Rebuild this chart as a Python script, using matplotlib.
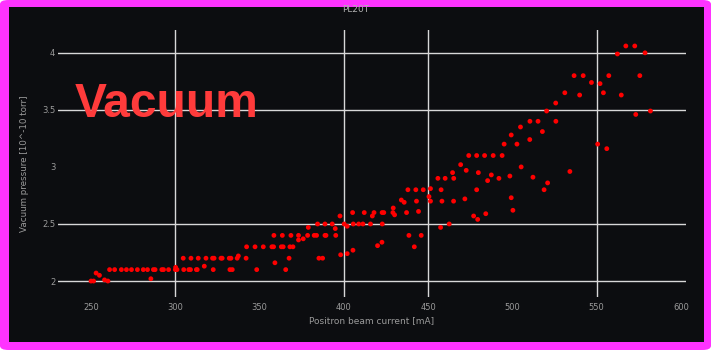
import matplotlib
matplotlib.use("Agg")
import matplotlib.pyplot as plt
from matplotlib.patches import FancyBboxPatch, Rectangle

# beam current [mA] and vacuum pressure [1e-10 torr], PL20T gauge
current = [
    250.0, 251.5, 253.0, 255.0, 258.0, 260.0,
    261.0, 264.0, 268.0, 271.0, 274.0, 277.5, 281.0, 283.5, 287.0, 288.0,
    292.0, 293.0, 296.0, 300.0, 301.0, 305.0, 308.0, 309.0, 312.5, 313.0,
    322.5, 332.4, 333.8, 348.3, 365.5,
    285.5, 300.2, 317.2, 359.1, 337.4, 342.0,
    304.7, 309.3, 313.6, 318.2, 322.1, 323.0, 327.1, 327.8, 332.0, 333.0,
    336.7, 367.5, 385.2, 387.4,
    398.1, 402.0, 405.4,
    342.3, 347.3, 352.2, 357.3, 358.3, 362.9, 364.0, 368.0, 369.8, 420.0, 441.8,
    422.6, 373.1, 375.9,
    358.5, 363.5, 368.6, 373.1, 378.5, 382.4, 383.8, 388.8, 389.4, 395.2,
    438.6, 445.9,
    378.9, 394.9,
    384.4, 388.8, 393.1, 400.2, 405.6, 408.8, 411.3, 415.8, 422.8, 462.5,
    402.0, 457.4, 397.7,
    405.2, 412.1, 417.9, 422.7, 423.7, 429.1, 437.2, 444.3,
    416.9, 430.1, 429.3, 484.2, 477.0, 479.4, 500.3,
    434.1, 435.8, 443.1, 451.4, 450.5, 458.2, 465.1, 471.8, 499.3,
    438.0, 442.7, 447.1, 451.4, 457.7, 478.8, 518.8,
    455.8, 460.1, 465.2, 485.3, 487.5, 492.0, 498.5, 512.2, 520.9,
    464.5, 472.6, 479.8, 534.1, 469.3, 505.2,
    474.1, 478.8, 483.5, 488.6, 493.9,
    495.1, 502.7, 499.3, 510.3, 504.8,
    517.8, 510.4, 515.2, 525.8, 520.3, 525.7, 531.1, 539.9,
    536.6, 542.0, 546.9, 552.0, 554.0, 557.2, 562.3, 567.3, 572.6, 578.7,
    575.6, 564.6, 573.2, 581.9, 550.6, 556.0,
]
pressure = [
    2.00, 2.00, 2.07, 2.05, 2.01, 2.00,
    2.10, 2.10, 2.10, 2.10, 2.10, 2.10, 2.10, 2.10, 2.10, 2.10,
    2.10, 2.10, 2.10, 2.10, 2.10, 2.10, 2.10, 2.10, 2.10, 2.10,
    2.10, 2.10, 2.10, 2.10, 2.10,
    2.02, 2.12, 2.13, 2.16, 2.22, 2.20,
    2.20, 2.20, 2.20, 2.20, 2.20, 2.20, 2.20, 2.20, 2.20, 2.20,
    2.20, 2.20, 2.20, 2.20,
    2.23, 2.24, 2.27,
    2.30, 2.30, 2.30, 2.30, 2.30, 2.30, 2.30, 2.30, 2.30, 2.31, 2.30,
    2.34, 2.36, 2.37,
    2.40, 2.40, 2.40, 2.40, 2.40, 2.40, 2.40, 2.40, 2.40, 2.40,
    2.40, 2.40,
    2.47, 2.46,
    2.50, 2.50, 2.50, 2.50, 2.50, 2.50, 2.50, 2.50, 2.50, 2.50,
    2.48, 2.47, 2.57,
    2.60, 2.60, 2.60, 2.60, 2.60, 2.60, 2.60, 2.61,
    2.57, 2.58, 2.64, 2.59, 2.57, 2.54, 2.62,
    2.71, 2.69, 2.70, 2.70, 2.74, 2.70, 2.70, 2.72, 2.73,
    2.80, 2.80, 2.80, 2.81, 2.80, 2.80, 2.80,
    2.90, 2.90, 2.90, 2.88, 2.93, 2.90, 2.92, 2.91, 2.86,
    2.95, 2.97, 2.95, 2.96, 3.02, 3.00,
    3.10, 3.10, 3.10, 3.10, 3.10,
    3.20, 3.20, 3.28, 3.24, 3.35,
    3.31, 3.40, 3.40, 3.40, 3.49, 3.56, 3.65, 3.63,
    3.80, 3.80, 3.74, 3.73, 3.65, 3.80, 3.99, 4.06, 4.06, 4.00,
    3.80, 3.63, 3.46, 3.49, 3.20, 3.16,
]

x_ticks = [250, 300, 350, 400, 450, 500, 550, 600]
y_ticks = [2, 2.5, 3, 3.5, 4]
x_ticklabels = ["250", "300", "350", "400", "450", "500", "550", "600"]
y_ticklabels = ["2", "2.5", "3", "3.5", "4"]
x_grid = [300, 400, 450, 550]
y_grid = [2, 2.5, 3.5, 4]

bg = "#0c0d10"
txt = "#9a9a9a"

fig = plt.figure(figsize=(7.11, 3.5), dpi=100)
fig.patch.set_facecolor("white")
# magenta frame with dark card on top, kept beneath the axes
frame = FancyBboxPatch((0.0, 0.0), 1.0, 1.0, boxstyle="round,pad=0,rounding_size=0.012",
                       transform=fig.transFigure, facecolor="#ff33ff", edgecolor="none", zorder=-3)
card = Rectangle((9 / 711, 8 / 350), 695 / 711, 335 / 350,
                 transform=fig.transFigure, facecolor=bg, edgecolor="none", zorder=-2)
fig.patches.extend([frame, card])

ax = fig.add_axes([58 / 711, 53 / 350, 628 / 711, 267 / 350])
ax.set_facecolor(bg)
for s in ax.spines.values():
    s.set_visible(False)

for gx in x_grid:
    ax.axvline(gx, color="#d8d8d8", lw=1.0, zorder=1)
for gy in y_grid:
    ax.axhline(gy, color="#d8d8d8", lw=1.0, zorder=1)

ax.scatter(current, pressure, s=12, color="#ff0000", edgecolors="none", zorder=3)

ax.set_xlim(230.4, 603)
ax.set_ylim(1.86, 4.2)
ax.set_xticks(x_ticks)
ax.set_xticklabels(x_ticklabels)
ax.set_yticks(y_ticks)
ax.set_yticklabels(y_ticklabels)
ax.tick_params(axis="both", length=0, labelsize=6, labelcolor=txt, pad=4)
ax.tick_params(axis="y", pad=2)

ax.set_xlabel("Positron beam current [mA]", fontsize=6.5, color=txt, labelpad=3)
ax.set_ylabel("Vacuum pressure [10^-10 torr]", fontsize=6.3, color=txt, labelpad=9)

fig.text(0.5, 1 - 10 / 350, "PL20T", ha="center", va="center", fontsize=6.5, color="#b0b0b0")
fig.text(75 / 711, 1 - 117 / 350, "Vacuum", ha="left", va="baseline", fontsize=34.5,
         fontweight="bold", family="Liberation Sans", color="#ff3b3b", zorder=5)

fig.savefig("out.png", dpi=100, facecolor=fig.get_facecolor())
